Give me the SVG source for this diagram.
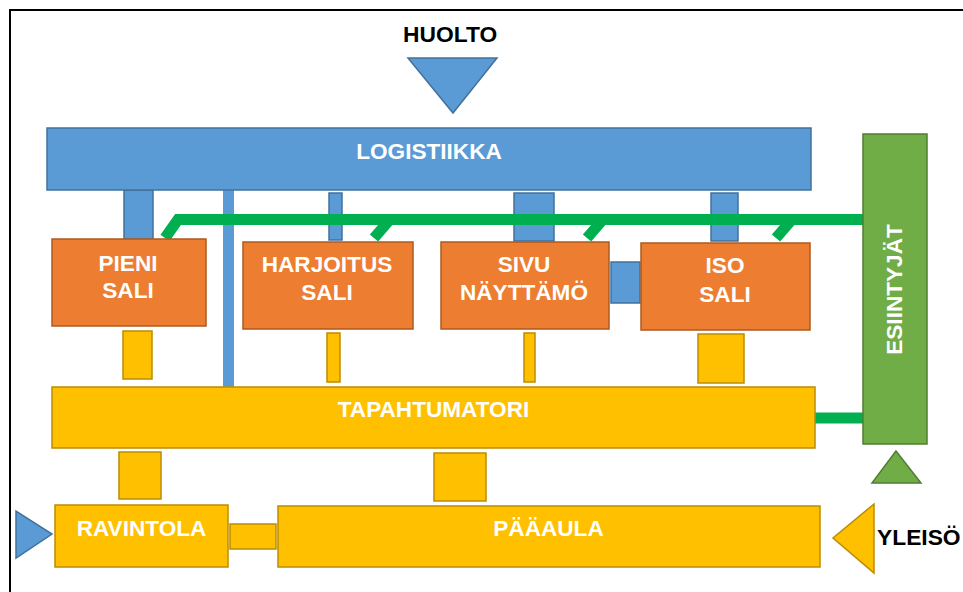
<svg xmlns="http://www.w3.org/2000/svg" width="963" height="592" viewBox="0 0 963 592">
<style>
.blue{fill:#5B9BD5;stroke:#41719C;stroke-width:1.5}
.orange{fill:#ED7D31;stroke:#AE5A21;stroke-width:1.5}
.yellow{fill:#FFC000;stroke:#BC8C00;stroke-width:1.5}
.green{fill:#70AD47;stroke:#507E32;stroke-width:1.5}
.gline{fill:none;stroke:#00B050;stroke-width:11}
.lbl{font-family:"Liberation Sans",Arial,sans-serif;font-weight:bold;font-size:22.6px;fill:#FFFFFF;text-anchor:middle}
.ext{font-family:"Liberation Sans",Arial,sans-serif;font-weight:bold;font-size:22.8px;fill:#000000}
</style>
<rect width="963" height="592" fill="#FFFFFF"/>
<path d="M10,592 V10 H963" fill="none" stroke="#000000" stroke-width="2"/>

<g id="connectors">
  <rect class="blue" x="124" y="190" width="29" height="49"/>
  <rect class="blue" x="223" y="190" width="11" height="197" style="stroke:none"/>
  <rect class="blue" x="329" y="193" width="13" height="47"/>
  <rect class="blue" x="514" y="193" width="40" height="48"/>
  <rect class="blue" x="711" y="193" width="27" height="48"/>
  <rect class="blue" x="611" y="262" width="29" height="41"/>
  <polyline class="gline" points="864,219.5 178,219.5 165,238"/>
  <polyline class="gline" points="390,219.5 374,238"/>
  <polyline class="gline" points="603,219.5 587,238"/>
  <polyline class="gline" points="792,219.5 776,238"/>
  <line class="gline" x1="815" y1="418" x2="864" y2="418"/>
  <rect class="yellow" x="123" y="331" width="29" height="48"/>
  <rect class="yellow" x="327" y="333" width="13" height="49"/>
  <rect class="yellow" x="524" y="333" width="11" height="49"/>
  <rect class="yellow" x="698" y="334" width="46" height="49"/>
  <rect class="yellow" x="119" y="452" width="42" height="47"/>
  <rect class="yellow" x="434" y="453" width="52" height="48"/>
  <rect class="yellow" x="230" y="524" width="46" height="25"/>
</g>

<g id="huolto">
  <polygon class="blue" points="408,58 497,58 453,113"/>
  <text class="ext" x="403" y="42">HUOLTO</text>
</g>
<g id="logistiikka">
  <rect class="blue" x="47" y="128" width="764" height="62"/>
  <text class="lbl" x="429" y="159">LOGISTIIKKA</text>
</g>
<g id="pieni-sali">
  <rect class="orange" x="52" y="239" width="154" height="87"/>
  <text class="lbl" x="128" y="271">PIENI</text>
  <text class="lbl" x="128" y="298">SALI</text>
</g>
<g id="harjoitus-sali">
  <rect class="orange" x="243" y="242" width="170" height="87"/>
  <text class="lbl" x="327" y="272">HARJOITUS</text>
  <text class="lbl" x="327" y="300">SALI</text>
</g>
<g id="sivu-nayttamo">
  <rect class="orange" x="441" y="242" width="168" height="87"/>
  <text class="lbl" x="524" y="272">SIVU</text>
  <text class="lbl" x="524" y="300">NÄYTTÄMÖ</text>
</g>
<g id="iso-sali">
  <rect class="orange" x="641" y="243" width="169" height="87"/>
  <text class="lbl" x="725" y="273">ISO</text>
  <text class="lbl" x="725" y="302">SALI</text>
</g>
<g id="esiintyjat">
  <rect class="green" x="863" y="134" width="64" height="310"/>
  <text class="lbl" transform="translate(902,289.5) rotate(-90)" x="0" y="0">ESIINTYJÄT</text>
</g>
<g id="esiintyjat-entry">
  <polygon class="green" points="896,451 872,483 921,483"/>
</g>
<g id="tapahtumatori">
  <rect class="yellow" x="52" y="387" width="763" height="61"/>
  <text class="lbl" x="433.5" y="417">TAPAHTUMATORI</text>
</g>
<g id="ravintola">
  <rect class="yellow" x="55" y="505" width="173" height="62"/>
  <text class="lbl" x="141.5" y="536">RAVINTOLA</text>
</g>
<g id="ravintola-entry">
  <polygon class="blue" points="16,511 16,558 52,534"/>
</g>
<g id="paaaula">
  <rect class="yellow" x="278" y="506" width="542" height="61"/>
  <text class="lbl" x="548.5" y="536">PÄÄAULA</text>
</g>
<g id="yleiso">
  <polygon class="yellow" points="874,504 874,573 833,538"/>
  <text class="ext" x="877" y="545">YLEISÖ</text>
</g>
</svg>
